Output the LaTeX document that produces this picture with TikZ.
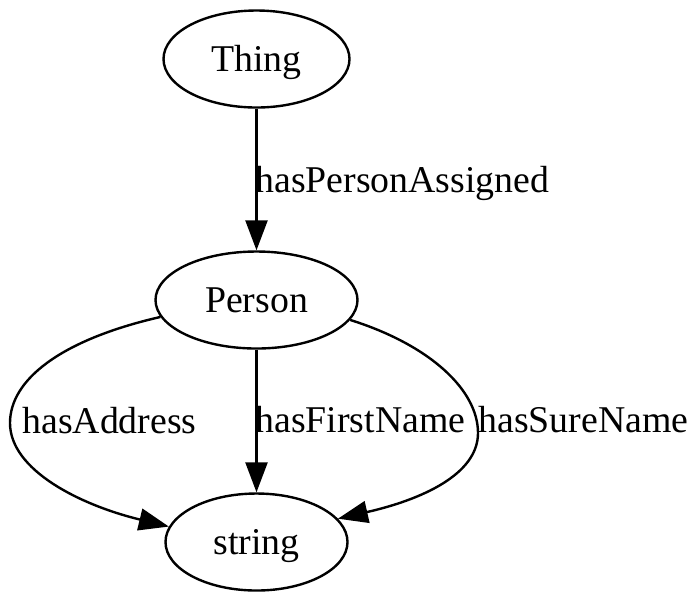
\documentclass[tikz,border=0pt]{standalone}
\usepackage{fontspec}
\setmainfont{Liberation Serif}
\usetikzlibrary{arrows.meta,shapes.geometric}
\begin{document}
\begin{tikzpicture}[x=0.5pt,y=-0.5pt,
  every node/.style={font=\fontsize{18.9}{22}\selectfont},
  cls/.style={draw,ellipse,line width=1.2pt,inner sep=0pt,minimum height=48.5pt,text height=12pt,text depth=0pt},
  lbl/.style={anchor=base west,inner sep=0pt},
  edge/.style={line width=1.2pt,-{Triangle[length=15pt,width=11pt]}}]
\useasboundingbox (0,0) rectangle (700,602);
\node[cls,minimum width=93pt] (Thing) at (256.5,59) {Thing};
\node[cls,minimum width=101pt] (Person) at (256.5,300) {Person};
\node[cls,minimum width=91pt] (string) at (256.5,542) {string};
\node[lbl] (l1) at (255,192) {hasPersonAssigned};
\node[lbl] (l2) at (22,433) {hasAddress};
\node[lbl] (l3) at (255,432) {hasFirstName};
\node[lbl] (l4) at (478,432) {hasSureName};
\draw[edge] (Thing) -- (Person);
\draw[edge] (Person) -- (string);
\draw[edge] (Person.190) .. controls (60,340) and (10,380) .. (10,423)
  .. controls (10,470) and (80,505) .. (string.170);
\draw[edge] (Person.-12) .. controls (430,345) and (478,390) .. (478,433)
  .. controls (478,475) and (420,500) .. (string.16);
\end{tikzpicture}
\end{document}
